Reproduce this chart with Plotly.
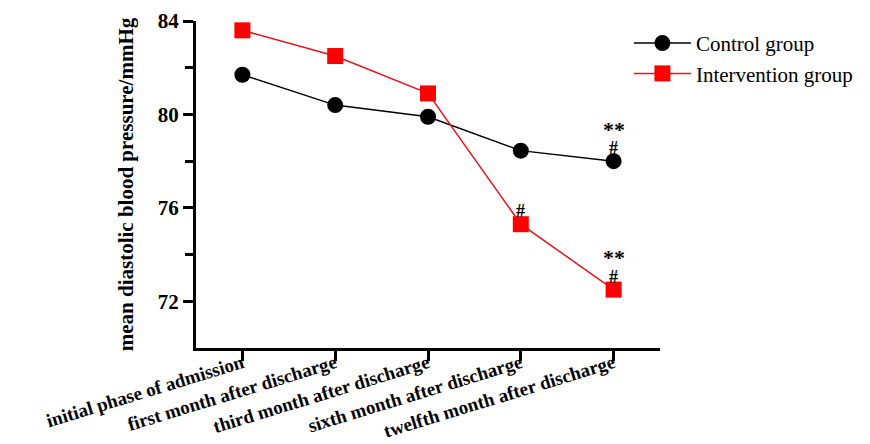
import plotly.graph_objects as go

categories = ["initial phase of admission", "first month after discharge",
              "third month after discharge", "sixth month after discharge",
              "twelfth month after discharge"]
control = [81.7, 80.4, 79.9, 78.45, 78.0]
intervention = [83.6, 82.5, 80.9, 75.3, 72.5]
# significance marks above each point, listed from the point upward
control_marks = [[], [], [], [], ["#", "**"]]
intervention_marks = [[], [], [], ["#"], ["#", "**"]]
y_ticks = [72, 76, 80, 84]
y_minor = [74, 78, 82]

font_family = "Liberation Serif"
xs = list(range(len(categories)))

fig = go.Figure()
fig.add_trace(go.Scatter(x=xs, y=control, mode="lines+markers", name="Control group",
                         line=dict(color="black", width=1.5),
                         marker=dict(symbol="circle", size=16, color="black")))
fig.add_trace(go.Scatter(x=xs, y=intervention, mode="lines+markers", name="Intervention group",
                         line=dict(color="#e8141b", width=1.5),
                         marker=dict(symbol="square", size=16, color="#ff0000")))

mark_style = {"#": (13, 18), "**": (32, 22)}  # (pixel shift, font size)

def add_marks(values, marks):
    for x, y, ms in zip(xs, values, marks):
        for t in ms:
            shift, size = mark_style[t]
            fig.add_annotation(x=x, y=y, text=t, showarrow=False, yanchor="middle", yshift=shift,
                               font=dict(family=font_family, size=size, color="black", weight="bold"))

add_marks(control, control_marks)
add_marks(intervention, intervention_marks)

fig.update_layout(
    width=870, height=444,
    margin=dict(l=188, r=218, t=13, b=104, autoexpand=False),
    plot_bgcolor="white", paper_bgcolor="white",
    font=dict(family=font_family, color="black"),
    legend=dict(x=0.933, y=0.994, xanchor="left", yanchor="top",
                font=dict(family=font_family, size=21, color="black"),
                itemwidth=57, tracegroupgap=0),
    xaxis=dict(range=[-0.5, 4.5], tickmode="array", tickvals=xs, ticktext=categories,
               tickangle=-17, showgrid=False, zeroline=False,
               showline=True, linecolor="black", linewidth=3,
               ticks="outside", ticklen=10, tickwidth=3, tickcolor="black",
               ticklabelstandoff=-16,
               tickfont=dict(family=font_family, size=19, color="black", weight="bold")),
    yaxis=dict(range=[70, 84], tickmode="array", tickvals=y_ticks,
               showgrid=False, zeroline=False,
               showline=True, linecolor="black", linewidth=3,
               ticks="outside", ticklen=10, tickwidth=3, tickcolor="black",
               minor=dict(tickvals=y_minor, ticks="outside", ticklen=8, tickwidth=3, tickcolor="black"),
               tickfont=dict(family=font_family, size=21, color="black", weight="bold"),
               title=dict(text="mean diastolic blood pressure/mmHg", standoff=19,
                          font=dict(family=font_family, size=21, color="black", weight="bold"))),
)

fig.write_html("out.html")
